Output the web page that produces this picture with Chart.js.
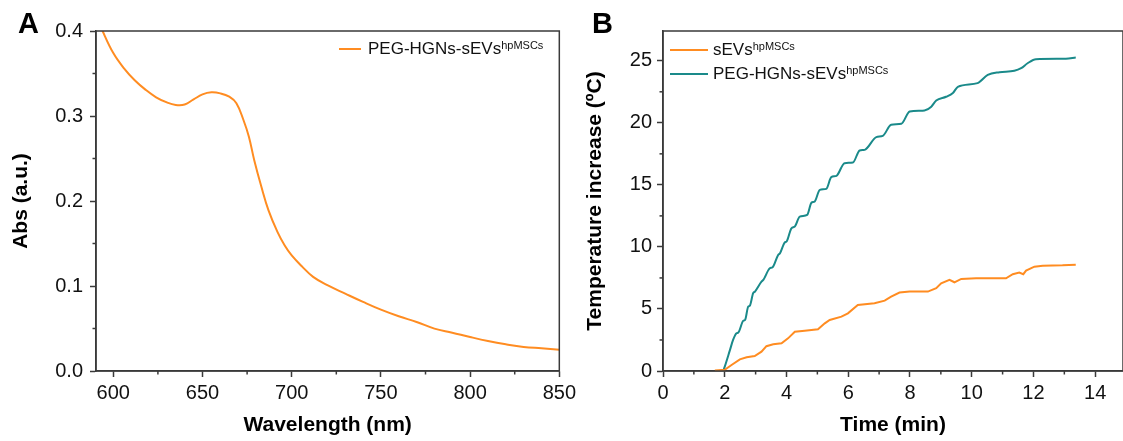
<!DOCTYPE html>
<html>
<head>
<meta charset="utf-8">
<script src="https://cdn.jsdelivr.net/npm/chart.js@4.4.1/dist/chart.umd.min.js"></script>
<style>
  body { margin:0; background:#fff; font-family:"Liberation Sans", Arial, sans-serif; }
  #wrap { position:relative; width:1123px; height:441px; overflow:hidden; }
  canvas { position:absolute; top:0; }
  #cA { left:0; }
  #cB { left:580px; }
  .panel { position:absolute; top:9px; font-size:29px; line-height:29px; font-weight:bold; color:#000; }
  .legend { position:absolute; font-size:17px; color:#111; }
  .legend .item { display:flex; align-items:center; height:24px; white-space:nowrap; }
  .legend .swatch { display:inline-block; height:2px; }
  .legend .sup { font-size:11px; vertical-align:5px; }
</style>
</head>
<body>
<div id="wrap">
  <canvas id="cA" width="580" height="441"></canvas>
  <canvas id="cB" width="543" height="441"></canvas>
  <div class="panel" style="left:18px">A</div>
  <div class="panel" style="left:592px">B</div>
  <div class="legend" id="legA" style="left:339px; top:37px"></div>
  <div class="legend" id="legB" style="left:670px; top:38px"></div>
</div>
<script>
// panel A: UV-vis spectrum
const wavelength = [590, 594, 600, 606, 612, 618, 624, 630, 635, 640, 645, 650, 655, 660, 665, 669, 673, 676, 679, 683,
                    687, 692, 696, 700, 706, 712, 720, 730, 740, 750, 760, 770, 780, 790, 800, 810, 820, 830, 840, 850];
const absorbance = [0.420, 0.400, 0.374, 0.356, 0.342, 0.331, 0.322, 0.316, 0.313, 0.3135, 0.3195, 0.3254, 0.3278, 0.3266, 0.3227, 0.315, 0.295, 0.2756, 0.248, 0.2167,
                    0.189, 0.1637, 0.148, 0.136, 0.1225, 0.1107, 0.1009, 0.091, 0.0813, 0.0722, 0.0644, 0.0577, 0.0499, 0.0451, 0.040, 0.0353, 0.0314, 0.0283, 0.0267, 0.0251];

// panel B: heating curves
const timeOrange = [1.68, 2.0, 2.22, 2.49, 2.71, 2.97, 3.19, 3.35, 3.57, 3.84, 4.05, 4.27, 4.59, 5.02, 5.24, 5.4, 5.78, 5.99, 6.31, 6.85,
                    7.18, 7.39, 7.66, 7.99, 8.58, 8.85, 9.01, 9.28, 9.44, 9.66, 10.14, 10.68, 11.11, 11.33, 11.54, 11.67, 11.76, 12.03, 12.3, 12.94, 13.37];
const tempOrange = [0.05, 0.1, 0.48, 0.94, 1.1, 1.2, 1.56, 2.0, 2.15, 2.23, 2.63, 3.17, 3.25, 3.36, 3.84, 4.11, 4.38, 4.65, 5.32, 5.46,
                    5.67, 5.99, 6.32, 6.4, 6.4, 6.67, 7.07, 7.34, 7.15, 7.42, 7.47, 7.47, 7.47, 7.8, 7.93, 7.8, 8.09, 8.41, 8.49, 8.52, 8.57];
const timeTeal = [1.95, 2.0, 2.17, 2.27, 2.38, 2.44, 2.6, 2.66, 2.76, 2.81, 2.92, 2.98, 3.19, 3.25, 3.46, 3.55, 3.73, 3.79, 3.94, 4.01,
                  4.16, 4.27, 4.43, 4.67, 4.81, 4.91, 5.08, 5.29, 5.45, 5.62, 5.88, 6.15, 6.37, 6.53, 6.91, 7.12, 7.39, 7.72, 7.99, 8.31,
                  8.47, 8.69, 8.85, 9.17, 9.39, 9.55, 10.19, 10.52, 10.9, 11.38, 11.6, 11.81, 12.08, 13.05, 13.37];
const tempTeal = [0, 0.35, 1.7, 2.5, 3.04, 3.1, 4.05, 4.12, 5.19, 5.25, 6.27, 6.4, 7.2, 7.34, 8.28, 8.36, 9.35, 9.49, 10.35, 10.46,
                  11.5, 11.64, 12.44, 12.58, 13.57, 13.65, 14.6, 14.68, 15.62, 15.73, 16.75, 16.8, 17.77, 17.82, 18.85, 18.95, 19.84, 19.92, 20.91, 20.97,
                  20.99, 21.3, 21.8, 22.1, 22.4, 22.9, 23.2, 23.87, 24.08, 24.19, 24.4, 24.8, 25.13, 25.16, 25.27];

const labelA = ['PEG-HGNs-sEVs', 'hpMSCs'];
const labelsB = [['sEVs', 'hpMSCs'], ['PEG-HGNs-sEVs', 'hpMSCs']];

const orange = '#ff8c21';
const teal = '#1a8a8a';
const axisColor = '#3a3a3a';
const tickFont = { family: '"Liberation Sans", Arial, sans-serif', size: 20 };
const titleFont = { family: '"Liberation Sans", Arial, sans-serif', size: 21, weight: 'bold' };

const pairs = (xs, ys) => xs.map((x, i) => ({ x, y: ys[i] }));

// box around plot + short minor ticks between the major ones
const frame = {
  id: 'frame',
  afterDraw(chart) {
    const { ctx, chartArea: a } = chart;
    ctx.save();
    ctx.strokeStyle = axisColor;
    ctx.lineWidth = 1.5;
    ctx.strokeRect(a.left, a.top, a.right - a.left, a.bottom - a.top);
    ['x', 'y'].forEach(id => {
      const s = chart.scales[id];
      const v = s.ticks.map(t => t.value);
      const step = v[1] - v[0];
      for (let m = v[0] - step / 2; m <= s.max + 1e-9; m += step) {
        if (m < s.min) continue;
        const p = s.getPixelForValue(m);
        ctx.beginPath();
        if (id === 'x') { ctx.moveTo(p, a.bottom); ctx.lineTo(p, a.bottom + 3.5); }
        else { ctx.moveTo(a.left, p); ctx.lineTo(a.left - 3.5, p); }
        ctx.stroke();
      }
    });
    ctx.restore();
  }
};

function axis(opts) {
  return Object.assign({
    type: 'linear',
    grid: { drawOnChartArea: false, tickLength: 6, tickColor: axisColor, tickWidth: 1.5 },
    border: { color: axisColor, width: 1.5 },
  }, opts);
}

function buildLegend(el, items, swatchW, gap) {
  el.innerHTML = items.map(it =>
    `<div class="item"><span class="swatch" style="width:${swatchW}px;background:${it.color};margin-right:${gap}px"></span>` +
    `<span>${it.text}<span class="sup">${it.sup}</span></span></div>`).join('');
}

const chartA = new Chart(document.getElementById('cA'), {
  type: 'line',
  data: {
    datasets: [{ label: labelA[0], sup: labelA[1], data: pairs(wavelength, absorbance),
      borderColor: orange, borderWidth: 2, pointRadius: 0, tension: 0.4 }]
  },
  options: {
    responsive: false, animation: false,
    layout: { padding: { top: 31, right: 20, left: 0, bottom: 0 } },
    plugins: { legend: { display: false }, tooltip: { enabled: false } },
    scales: {
      x: axis({ min: 590.3, max: 850,
        ticks: { stepSize: 50, includeBounds: false, font: tickFont, color: '#111', padding: 4, maxRotation: 0 },
        title: { display: true, text: 'Wavelength (nm)', font: titleFont, color: '#000', padding: { top: 0, bottom: 3 } },
        afterFit: s => { s.height = 70; } }),
      y: axis({ min: 0, max: 0.4,
        ticks: { stepSize: 0.1, font: tickFont, color: '#111', padding: 7, callback: v => v.toFixed(1) },
        title: { display: true, text: 'Abs (a.u.)', font: titleFont, color: '#000', padding: { top: 9, bottom: 0 } },
        afterFit: s => { s.width = 96; } })
    }
  },
  plugins: [frame]
});

const chartB = new Chart(document.getElementById('cB'), {
  type: 'line',
  data: {
    datasets: [
      { label: labelsB[0][0], sup: labelsB[0][1], data: pairs(timeOrange, tempOrange),
        borderColor: orange, borderWidth: 2, pointRadius: 0, tension: 0 },
      { label: labelsB[1][0], sup: labelsB[1][1], data: pairs(timeTeal, tempTeal),
        borderColor: teal, borderWidth: 2, pointRadius: 0, cubicInterpolationMode: 'monotone' }
    ]
  },
  options: {
    responsive: false, animation: false,
    layout: { padding: { top: 31, right: 0, left: 0, bottom: 0 } },
    plugins: { legend: { display: false }, tooltip: { enabled: false } },
    scales: {
      x: axis({ min: 0, max: 14.9,
        ticks: { stepSize: 2, includeBounds: false, font: tickFont, color: '#111', padding: 4, maxRotation: 0 },
        title: { display: true, text: 'Time (min)', font: titleFont, color: '#000', padding: { top: 0, bottom: 3 } },
        afterFit: s => { s.height = 70; } }),
      y: axis({ min: 0, max: 27.4,
        ticks: { stepSize: 5, includeBounds: false, font: tickFont, color: '#111', padding: 5 },
        title: { display: true, text: 'Temperature increase (ºC)', font: titleFont, color: '#000', padding: { top: 3, bottom: 0 } },
        afterFit: s => { s.width = 83; } })
    }
  },
  plugins: [frame]
});

buildLegend(document.getElementById('legA'),
  chartA.data.datasets.map(d => ({ text: d.label, sup: d.sup, color: d.borderColor })), 22, 7);
buildLegend(document.getElementById('legB'),
  chartB.data.datasets.map(d => ({ text: d.label, sup: d.sup, color: d.borderColor })), 38, 5);
</script>
</body>
</html>
